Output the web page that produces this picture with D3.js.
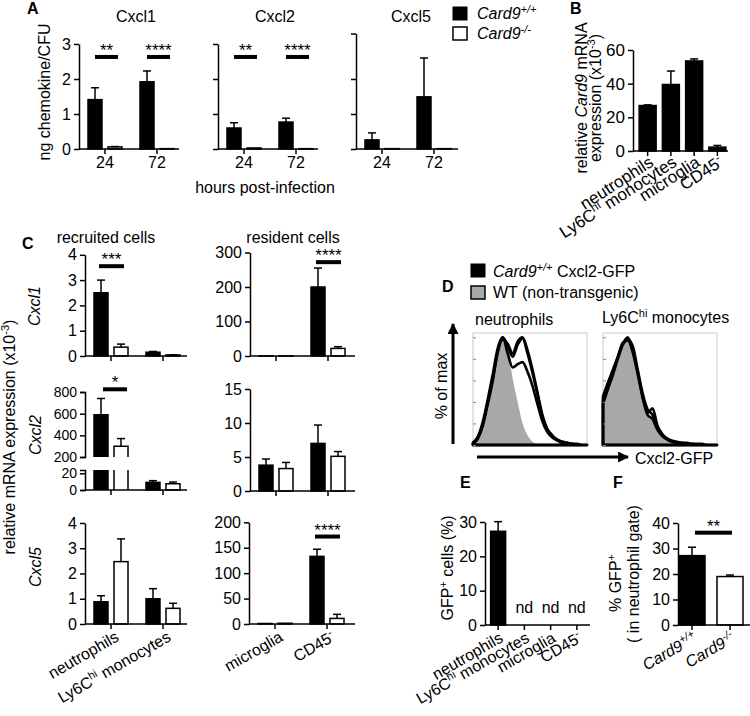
<!DOCTYPE html>
<html>
<head>
<script src="https://cdn.jsdelivr.net/npm/d3@7"></script>
<style>
body {margin: 0; background: #fff; overflow: hidden;}
</style>
</head>
<body>
<div id="canvas"></div>
<script>
// ---------- data ----------
// A: chemokine protein (ng/CFU) at 24 / 72 h, Card9+/+ vs Card9-/-
var hours = ["24", "72"];
var cxcl1Wt = [1.41, 1.92], cxcl1WtSem = [0.34, 0.31];
var cxcl1Ko = [0.06, 0.01], cxcl1KoSem = [0.01, 0];
var cxcl2Wt = [0.60, 0.77], cxcl2WtSem = [0.15, 0.11];
var cxcl2Ko = [0.03, 0.01], cxcl2KoSem = [0, 0];
var cxcl5Wt = [0.26, 1.49], cxcl5WtSem = [0.20, 1.11];
var cxcl5Ko = [0.01, 0.01], cxcl5KoSem = [0, 0];
var starsA = ["**", "****"];

// B: Card9 mRNA (x10^-3)
var cellTypes = ["neutrophils", "Ly6Chi monocytes", "microglia", "CD45-"];
var card9Expr = [27, 39.5, 53.5, 2.3], card9Sem = [0.4, 8, 1.2, 1];

// C: chemokine mRNA (x10^-3)
var recruited = ["neutrophils", "Ly6Chi monocytes"];
var resident = ["microglia", "CD45-"];
var c1RecWt = [2.5, 0.15], c1RecWtSem = [0.5, 0.03], c1RecKo = [0.35, 0.04], c1RecKoSem = [0.12, 0.01];
var c1ResWt = [0.4, 200], c1ResWtSem = [0, 55], c1ResKo = [0.3, 22], c1ResKoSem = [0, 5];
var c2RecWt = [590, 9.2], c2RecWtSem = [150, 2], c2RecKo = [300, 7.5], c2RecKoSem = [70, 2];
var c2ResWt = [3.8, 7.0], c2ResWtSem = [0.9, 2.7], c2ResKo = [3.3, 5.1], c2ResKoSem = [0.9, 0.7];
var c5RecWt = [0.88, 1.0], c5RecWtSem = [0.24, 0.4], c5RecKo = [2.47, 0.62], c5RecKoSem = [0.9, 0.2];
var c5ResWt = [1.0, 133], c5ResWtSem = [0, 14], c5ResKo = [1.5, 11], c5ResKoSem = [0, 8];

// D: Cxcl2-GFP histograms, % of max per channel bin
var flowBins = [0, 5, 10, 15, 20, 25, 30, 35, 40, 45, 50, 55, 60, 65, 70, 75, 80, 85, 90, 95, 100, 105, 110, 115];
var neutWT   = [1, 5, 15, 32, 57, 82, 100, 88, 62, 40, 20, 9, 3, 1, 0, 0, 0, 0, 0, 0, 0, 0, 0, 0];
var neutGfp1 = [2, 7, 20, 40, 62, 88, 100, 92, 82, 93, 99, 85, 67, 47, 26, 14, 8, 5, 3, 2, 1, 1, 0, 0];
var neutGfp2 = [1, 6, 18, 38, 60, 86, 98, 94, 85, 96, 100, 88, 70, 49, 28, 15, 9, 5, 3, 2, 1, 0, 0, 0];
var neutGfp3 = [2, 8, 22, 43, 66, 90, 100, 85, 72, 75, 77, 68, 55, 38, 22, 12, 7, 4, 2, 1, 1, 0, 0, 0];
var monoWT   = [40, 55, 67, 80, 92, 100, 90, 72, 50, 32, 22, 16, 8, 4, 2, 1, 1, 0, 0, 0, 0, 0, 0, 0];
var monoGfp1 = [45, 58, 70, 82, 94, 100, 88, 68, 45, 30, 34, 18, 10, 6, 4, 3, 2, 2, 1, 1, 1, 0, 0, 0];
var monoGfp2 = [38, 52, 65, 80, 93, 98, 92, 70, 48, 33, 28, 15, 9, 5, 3, 2, 2, 1, 1, 0, 0, 0, 0, 0];
var monoGfp3 = [42, 56, 68, 82, 95, 97, 86, 66, 44, 28, 24, 14, 8, 5, 3, 2, 1, 1, 0, 0, 0, 0, 0, 0];

// E: GFP+ cells (%), nd = not detected
var gfpPos = [27.3, null, null, null], gfpPosSem = [2.8, 0, 0, 0];

// F: % GFP+ in neutrophil gate
var genotypes = ["Card9+/+", "Card9-/-"];
var gfpNeut = [27.2, 19], gfpNeutSem = [3.3, 0.6];

// ---------- helpers ----------
var FONT = "'Liberation Sans', Arial, Helvetica, sans-serif";
var svg = d3.select("#canvas").append("svg")
    .attr("width", 750).attr("height", 716)
    .attr("font-family", FONT);

var defs = svg.append("defs");
defs.append("marker").attr("id", "arr")
    .attr("viewBox", "0 0 10 10").attr("refX", 9).attr("refY", 5)
    .attr("markerUnits", "userSpaceOnUse").attr("markerWidth", 11).attr("markerHeight", 11)
    .attr("orient", "auto")
  .append("path").attr("d", "M0,0L10,5L0,10z").attr("fill", "#000");

function txt(x, y, s, o) {
    o = o || {};
    var t = svg.append("text").attr("x", x).attr("y", y).text(s)
        .attr("text-anchor", o.anchor || "start")
        .attr("font-size", o.fs || 16);
    if (o.bold) t.attr("font-weight", "bold");
    if (o.italic) t.attr("font-style", "italic");
    if (o.rot) t.attr("transform", "rotate(" + o.rot + "," + x + "," + y + ")");
    return t;
}

// parts: [[text, flags]] flags: "i" italic, "^" superscript
function rich(x, y, parts, o) {
    o = o || {};
    var t = txt(x, y, "", o);
    var fs = o.fs || 16, lift = 0;
    parts.forEach(function (p) {
        var f = p[1] || "";
        var s = t.append("tspan").text(p[0]);
        var want = f.indexOf("^") >= 0 ? -Math.round(fs * 0.38) : 0;
        if (want !== lift) { s.attr("dy", want - lift); lift = want; }
        if (want) s.attr("font-size", Math.round(fs * 0.68));
        if (f.indexOf("i") >= 0) s.attr("font-style", "italic");
    });
    return t;
}

function catParts(name) {
    if (name === "Ly6Chi monocytes") return [["Ly6C"], ["hi", "^"], [" monocytes"]];
    if (name === "CD45-") return [["CD45"], ["-", "^"]];
    var m = name.match(/^Card9(.*)$/);
    if (m) return [["Card9", "i"], [m[1], "i^"]];
    return [[name]];
}

function yAxis(x0, y, ticks, showLabels, fs, outer) {
    var ax = d3.axisLeft(y).tickValues(ticks).tickSize(5).tickPadding(3).tickSizeOuter(outer || 0);
    ax.tickFormat(showLabels ? d3.format("d") : "");
    var g = svg.append("g").attr("transform", "translate(" + x0 + ",0)").call(ax);
    g.attr("font-family", FONT).attr("font-size", fs || 16);
    g.selectAll(".domain, .tick line").attr("stroke", "#000").attr("stroke-width", 1.5);
    g.selectAll("text").attr("fill", "#000");
    return g;
}

function xAxis(x0, x1, y0, xb, labels, fs) {
    svg.append("line").attr("x1", x0).attr("x2", x1).attr("y1", y0).attr("y2", y0)
        .attr("stroke", "#000").attr("stroke-width", 1.5);
    var ax = d3.axisBottom(xb).tickSize(5).tickPadding(3);
    if (!labels) ax.tickFormat("");
    var g = svg.append("g").attr("transform", "translate(0," + y0 + ")").call(ax);
    g.select(".domain").remove();
    g.attr("font-family", FONT).attr("font-size", fs || 16);
    g.selectAll(".tick line").attr("stroke", "#000").attr("stroke-width", 1.5);
    g.selectAll("text").attr("fill", "#000");
}

function errBar(cx, y, v, e) {
    if (!e) return;
    svg.append("line").attr("x1", cx).attr("x2", cx).attr("y1", y(v)).attr("y2", y(v + e))
        .attr("stroke", "#000").attr("stroke-width", 1.5);
    svg.append("line").attr("x1", cx - 4).attr("x2", cx + 4).attr("y1", y(v + e)).attr("y2", y(v + e))
        .attr("stroke", "#000").attr("stroke-width", 1.5);
}

// grouped bars on a band scale; returns a helper giving bar centres
function barGroup(x0, x1, y, cats, series, o) {
    var n = series.length;
    var xb = d3.scaleBand().domain(cats).range([x0 + o.off, x0 + o.off + o.step * cats.length]);
    var half = (o.bw * n + o.gap * (n - 1)) / 2;
    var inner = d3.scaleBand().domain(d3.range(n)).range([-half, half])
        .paddingInner(n > 1 ? o.gap / (o.bw + o.gap) : 0);
    var cx = function (c, k) { return xb(c) + xb.bandwidth() / 2 + inner(k) + inner.bandwidth() / 2; };
    series.forEach(function (s, k) {
        cats.forEach(function (c, i) {
            var v = s.v[i];
            if (v == null) return;
            var fill = Array.isArray(s.fill) ? s.fill[i] : s.fill;
            var w = inner.bandwidth();
            svg.append("rect").attr("x", cx(c, k) - w / 2).attr("y", y(v))
                .attr("width", w).attr("height", y(0) - y(v))
                .attr("fill", fill).attr("stroke", "#000").attr("stroke-width", 1.5);
            errBar(cx(c, k), y, v, s.e[i]);
        });
    });
    xAxis(x0, x1, y(0), xb, o.tickLabels, o.fs);
    if (o.rotLabels) {
        var lx = o.lx == null ? 4 : o.lx, ly = o.ly == null ? 16 : o.ly;
        cats.forEach(function (c) {
            var px = xb(c) + xb.bandwidth() / 2;
            rich(px + lx, y(0) + ly, catParts(c), {anchor: "end", fs: o.fs || 16, rot: o.angle || -30});
        });
    }
    return {xb: xb, cx: cx};
}

function sig(xa, xb2, yp, stars) {
    svg.append("rect").attr("x", xa).attr("y", yp - 2).attr("width", xb2 - xa).attr("height", 4).attr("fill", "#000");
    txt((xa + xb2) / 2, yp - 1, stars, {anchor: "middle", fs: 17});
}

function wtKo(wt, wtSem, ko, koSem) {
    return [{v: wt, e: wtSem, fill: "#000"}, {v: ko, e: koSem, fill: "#fff"}];
}

// ---------- panel A ----------
txt(27, 14, "A", {bold: true, fs: 16});
var yA = d3.scaleLinear().domain([0, 3]).range([149, 44]);
var yA5 = d3.scaleLinear().domain([0, 3.3]).range([149, 33.5]);
var gA = {off: 0, step: 52, bw: 14, gap: 6, tickLabels: true, fs: 16};

yAxis(79, yA, [0, 1, 2, 3], true, 16);
var a1 = barGroup(79, 179, yA, hours, wtKo(cxcl1Wt, cxcl1WtSem, cxcl1Ko, cxcl1KoSem), gA);
yAxis(218, yA, [0, 1, 2, 3], false);
var a2 = barGroup(218, 318, yA, hours, wtKo(cxcl2Wt, cxcl2WtSem, cxcl2Ko, cxcl2KoSem), gA);
yAxis(356, yA5, [0, 1, 2, 3.3], false);
barGroup(356, 458, yA5, hours, wtKo(cxcl5Wt, cxcl5WtSem, cxcl5Ko, cxcl5KoSem), gA);

[a1, a2].forEach(function (p) {
    hours.forEach(function (h, i) {
        sig(p.cx(h, 0), p.cx(h, 1) + 3, yA(2.63), starsA[i]);
    });
});
txt(136, 22, "Cxcl1", {anchor: "middle"});
txt(275, 22, "Cxcl2", {anchor: "middle"});
txt(411, 22, "Cxcl5", {anchor: "middle"});
txt(50, 92, "ng chemokine/CFU", {anchor: "middle", rot: -90});
txt(265, 193, "hours post-infection", {anchor: "middle"});

// legend A
svg.append("rect").attr("x", 453).attr("y", 7).attr("width", 14).attr("height", 13).attr("fill", "#000").attr("stroke", "#000");
svg.append("rect").attr("x", 453).attr("y", 27).attr("width", 14).attr("height", 13).attr("fill", "#fff").attr("stroke", "#000").attr("stroke-width", 1.5);
rich(477, 19, [["Card9", "i"], ["+/+", "i^"]], {fs: 16});
rich(477, 39, [["Card9", "i"], ["-/-", "i^"]], {fs: 16});

// ---------- panel B ----------
txt(570, 14, "B", {bold: true, fs: 16});
var yB = d3.scaleLinear().domain([0, 60]).range([151, 50]);
yAxis(633, yB, [0, 20, 40, 60], true, 17);
barGroup(633, 728, yB, cellTypes, [{v: card9Expr, e: card9Sem, fill: "#000"}],
    {off: 3, step: 23.25, bw: 17, gap: 0, rotLabels: true, fs: 17, angle: -33, lx: 7, ly: 14});
rich(587, 98, [["relative "], ["Card9", "i"], [" mRNA"]], {anchor: "middle", rot: -90, fs: 16});
rich(601, 98, [["expression (x10"], ["-3", "^"], [")"]], {anchor: "middle", rot: -90, fs: 16});

// ---------- panel C ----------
txt(22, 249, "C", {bold: true, fs: 16});
txt(106, 243, "recruited cells", {anchor: "middle"});
txt(293, 243, "resident cells", {anchor: "middle"});
var gC = {off: 0, step: 52, bw: 14, gap: 6, tickLabels: false, fs: 16};

// row 1 Cxcl1
var yC1a = d3.scaleLinear().domain([0, 4]).range([356, 254.8]);
yAxis(85, yC1a, [0, 1, 2, 3, 4], true, 16);
var c1a = barGroup(85, 187, yC1a, recruited, wtKo(c1RecWt, c1RecWtSem, c1RecKo, c1RecKoSem), gC);
sig(c1a.cx(recruited[0], 0) - 2, c1a.cx(recruited[0], 1) + 3, yC1a(3.55), "***");

var yC1b = d3.scaleLinear().domain([0, 300]).range([356, 252.5]);
yAxis(250, yC1b, [0, 100, 200, 300], true, 16);
var c1b = barGroup(250, 355, yC1b, resident, wtKo(c1ResWt, c1ResWtSem, c1ResKo, c1ResKoSem), gC);
sig(c1b.cx(resident[1], 0) - 2, c1b.cx(resident[1], 1) + 3, yC1b(272), "****");

// row 2 Cxcl2, recruited with broken axis
var yTop = d3.scaleLinear().domain([200, 800]).range([457, 392]);
var yBot = d3.scaleLinear().domain([0, 24]).range([490, 470]);
yAxis(85, yTop, [200, 400, 600, 800], true, 14, 5);
yAxis(85, yBot, [0, 20], true, 14, 5);
var xb2 = d3.scaleBand().domain(recruited).range([85, 189]);
var in2 = d3.scaleBand().domain([0, 1]).range([-17, 17]).paddingInner(0.3);
wtKo(c2RecWt, c2RecWtSem, c2RecKo, c2RecKoSem).forEach(function (s, k) {
    recruited.forEach(function (c, i) {
        var v = s.v[i], w = in2.bandwidth();
        var l = xb2(c) + xb2.bandwidth() / 2 + in2(k), r = l + w, cx = l + w / 2;
        if (v <= yBot.domain()[1]) {
            svg.append("rect").attr("x", l).attr("y", yBot(v)).attr("width", w).attr("height", yBot(0) - yBot(v))
                .attr("fill", s.fill).attr("stroke", "#000").attr("stroke-width", 1.5);
            errBar(cx, yBot, v, s.e[i]);
        } else {
            var top = yBot(yBot.domain()[1]);
            svg.append("rect").attr("x", l).attr("y", top).attr("width", w).attr("height", yBot(0) - top).attr("fill", s.fill);
            svg.append("path").attr("d", "M" + l + "," + yBot(0) + "V" + top + "M" + r + "," + top + "V" + yBot(0))
                .attr("fill", "none").attr("stroke", "#000").attr("stroke-width", 1.5);
            var b = yTop(yTop.domain()[0]);
            svg.append("rect").attr("x", l).attr("y", yTop(v)).attr("width", w).attr("height", b - yTop(v)).attr("fill", s.fill);
            svg.append("path").attr("d", "M" + l + "," + b + "V" + yTop(v) + "H" + r + "V" + b)
                .attr("fill", "none").attr("stroke", "#000").attr("stroke-width", 1.5);
            errBar(cx, yTop, v, s.e[i]);
        }
    });
});
xAxis(85, 187, yBot(0), xb2, false);
var cx2 = function (c, k) { return xb2(c) + xb2.bandwidth() / 2 + in2(k) + in2.bandwidth() / 2; };
sig(cx2(recruited[0], 0) + 2, cx2(recruited[0], 1) + 6, yTop(825), "*");

var yC2b = d3.scaleLinear().domain([0, 15]).range([491, 389]);
yAxis(250, yC2b, [0, 5, 10, 15], true, 16);
barGroup(250, 355, yC2b, resident, wtKo(c2ResWt, c2ResWtSem, c2ResKo, c2ResKoSem), gC);

// row 3 Cxcl5
var gC3 = {off: 0, step: 52, bw: 14, gap: 6, tickLabels: false, rotLabels: true, fs: 16, lx: 9, ly: 16};
var yC3a = d3.scaleLinear().domain([0, 4]).range([624, 523]);
yAxis(85, yC3a, [0, 1, 2, 3, 4], true, 16);
barGroup(85, 187, yC3a, recruited, wtKo(c5RecWt, c5RecWtSem, c5RecKo, c5RecKoSem), gC3);

var yC3b = d3.scaleLinear().domain([0, 200]).range([624, 522.3]);
yAxis(249, yC3b, [0, 50, 100, 150, 200], true, 16);
var c3b = barGroup(249, 355, yC3b, resident, wtKo(c5ResWt, c5ResWtSem, c5ResKo, c5ResKoSem), gC3);
sig(c3b.cx(resident[1], 0) - 2, c3b.cx(resident[1], 1) + 3, yC3b(172), "****");

rich(15, 437, [["relative mRNA expression (x10"], ["-3", "^"], [")"]], {anchor: "middle", rot: -90, fs: 16});
txt(40, 306, "Cxcl1", {anchor: "middle", rot: -90, italic: true});
txt(41, 435, "Cxcl2", {anchor: "middle", rot: -90, italic: true});
txt(41, 567, "Cxcl5", {anchor: "middle", rot: -90, italic: true});

// ---------- panel D ----------
txt(442, 292, "D", {bold: true, fs: 16});
svg.append("rect").attr("x", 471).attr("y", 264).attr("width", 14).attr("height", 13).attr("fill", "#000").attr("stroke", "#000");
svg.append("rect").attr("x", 471).attr("y", 286).attr("width", 14).attr("height", 13).attr("fill", "#a8a8a8").attr("stroke", "#000").attr("stroke-width", 1.5);
rich(493, 277, [["Card9", "i"], ["+/+", "i^"], [" Cxcl2-GFP"]], {fs: 16});
txt(493, 298, "WT (non-transgenic)", {fs: 16});

function drawHist(bx0, bx1, grey, blacks) {
    var x = d3.scaleLinear().domain([0, 115]).range([bx0, bx1]);
    var y = d3.scaleLinear().domain([0, 104]).range([445, 333]);
    var area = d3.area()
        .x(function (d, i) { return x(flowBins[i]); })
        .y0(y(0)).y1(function (d) { return y(d); })
        .curve(d3.curveMonotoneX);
    svg.append("rect").attr("x", bx0).attr("y", 333).attr("width", bx1 - bx0).attr("height", 112)
        .attr("fill", "none").attr("stroke", "#c8c8c8");
    svg.append("path").attr("d", area(grey)).attr("fill", "#a8a8a8");
    blacks.forEach(function (b) {
        svg.append("path").attr("d", area(b)).attr("fill", "none")
            .attr("stroke", "#000").attr("stroke-width", 2.6).attr("stroke-linejoin", "round");
    });
    var g = svg.append("g").attr("transform", "translate(" + bx0 + ",0)")
        .call(d3.axisLeft(y).tickValues([0, 20, 40, 60, 80, 100]).tickSize(-3).tickFormat(""));
    g.select(".domain").remove();
    g.selectAll("line").attr("stroke", "#888");
}
drawHist(473, 587, neutWT, [neutGfp1, neutGfp2, neutGfp3]);
drawHist(603, 717, monoWT, [monoGfp1, monoGfp2, monoGfp3]);
txt(475, 325, "neutrophils");
rich(602, 323, catParts("Ly6Chi monocytes"), {fs: 16});

svg.append("line").attr("x1", 453).attr("x2", 453).attr("y1", 444).attr("y2", 324)
    .attr("stroke", "#000").attr("stroke-width", 3).attr("marker-end", "url(#arr)");
svg.append("line").attr("x1", 477).attr("x2", 628).attr("y1", 457).attr("y2", 457)
    .attr("stroke", "#000").attr("stroke-width", 3).attr("marker-end", "url(#arr)");
txt(447, 386, "% of max", {anchor: "middle", rot: -90});
txt(635, 464, "Cxcl2-GFP");

// ---------- panel E ----------
txt(460, 488, "E", {bold: true, fs: 16});
var yE = d3.scaleLinear().domain([0, 30]).range([625, 522]);
yAxis(485, yE, [0, 10, 20, 30], true, 16);
var e = barGroup(485, 590, yE, cellTypes, [{v: gfpPos, e: gfpPosSem, fill: "#000"}],
    {off: 0, step: 26.25, bw: 15, gap: 0, rotLabels: true, fs: 16, lx: 6, ly: 16});
cellTypes.forEach(function (c, i) {
    if (gfpPos[i] == null) txt(e.cx(c, 0), 613, "nd", {anchor: "middle"});
});
rich(453, 568, [["GFP"], ["+", "^"], [" cells (%)"]], {anchor: "middle", rot: -90, fs: 16});

// ---------- panel F ----------
txt(613, 488, "F", {bold: true, fs: 16});
var yF = d3.scaleLinear().domain([0, 40]).range([625, 523]);
yAxis(678, yF, [0, 10, 20, 30, 40], true, 16);
var f = barGroup(678, 750, yF, genotypes, [{v: gfpNeut, e: gfpNeutSem, fill: ["#000", "#fff"]}],
    {off: -5, step: 38, bw: 26, gap: 0, rotLabels: true, fs: 16, lx: 6, ly: 16});
sig(f.cx(genotypes[0], 0) + 3, f.cx(genotypes[1], 0) + 2, yF(36.2), "**");
rich(621, 583, [["% GFP"], ["+", "^"]], {anchor: "middle", rot: -90, fs: 16});
txt(639, 574, "( in neutrophil gate)", {anchor: "middle", rot: -90});
</script>
</body>
</html>
